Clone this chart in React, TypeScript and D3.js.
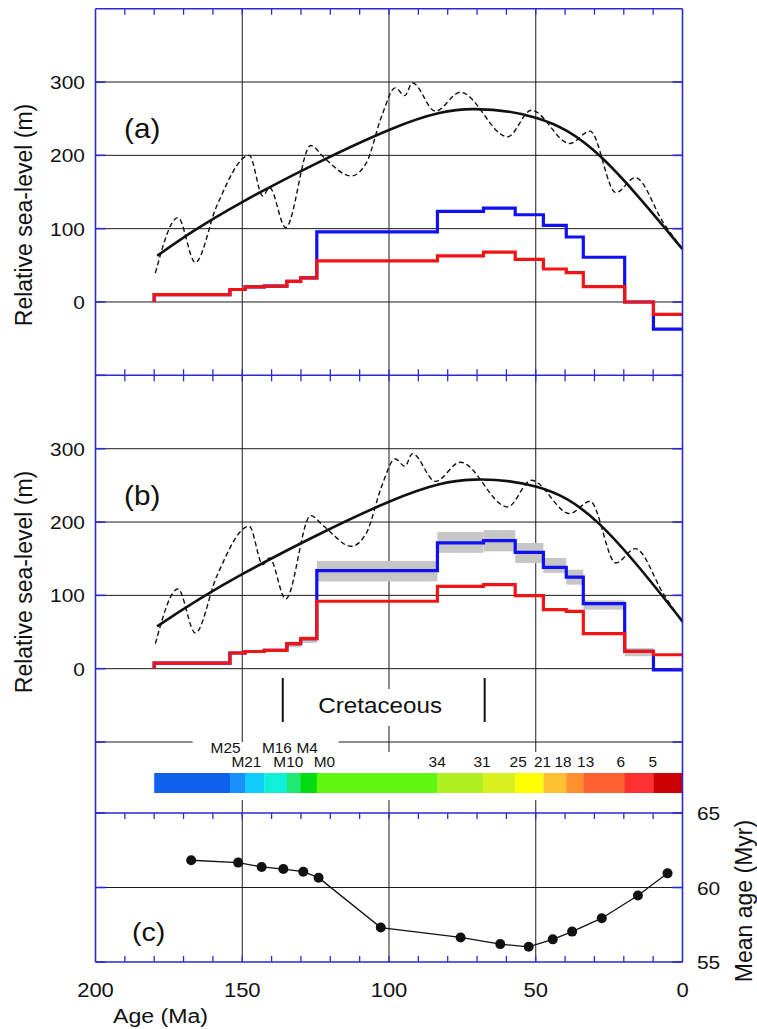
import React from 'react';
import * as d3 from 'd3';

// ---------------- DATA ----------------
// Age breakpoints (Ma) of the step curves (older -> younger)
const breaks = [180, 154.2, 149, 142.5, 134.8, 130.1, 124.6, 83.5, 67.8, 57, 47.4, 39.6, 33.8, 19.7, 9.9, 0];
// Panel (a) step values (m), one per interval
const redA = [10, 17, 20.5, 21.5, 28, 33, 56, 63, 68, 58, 45, 40, 21, 0, -17];
const blueA = [10, 17, 20.5, 21.5, 28, 33, 95.5, 123.6, 128, 119, 104.5, 88.6, 61, 0, -37];
// Panel (b) step values (m)
const redB = [7.7, 21.4, 23.4, 25, 34.1, 41, 92, 112.3, 114.6, 99.6, 80.5, 78.2, 47.7, 23.6, 19];
const blueB = [7.7, 21.4, 23.4, 25, 34.1, 41, 133.7, 171.5, 174.6, 158.5, 138.2, 124.9, 88.7, 23.6, -1.5];
// Panel (b) uncertainty band (m), per interval (null = none)
const bandLowB: (number | null)[] = [null, null, null, null, 29, 35, 119, 158, 160, 144, 130.6, 114.6, 80.5, 17, null];
const bandHighB: (number | null)[] = [null, null, null, null, 37, 44, 147, 186.5, 189, 171.5, 151, 135, 93.2, 28, null];

// Smooth (fitted) long-term curves
const smoothAges = [179, 149.7, 99.8, 71.2, 49.7, 28.1, 0];
const smoothA = [63, 137, 235, 263, 251, 199, 72];
const smoothB = [57.7, 129.6, 228, 257.8, 248, 196.5, 64.5];

// Dashed (oscillating) curves
const dashAges = [179.6, 171.9, 166.0, 158.7, 147.6, 143.0, 140.7, 135.2, 126.7, 122.1, 112.9, 107.7, 102.5, 97.9, 94.6, 92.0, 84.2, 75.7, 59.6, 51.5, 38.4, 31.5, 22.7, 16.1, 6.5, 0];
const dashA = [39.4, 115, 53.9, 131, 199.9, 144.6, 156, 101.5, 213.5, 196.7, 171.8, 189.9, 253.4, 292, 281.5, 298.7, 260.2, 286, 225.3, 261.5, 216.2, 233, 149.1, 169.6, 108, 72];
const dashB = [34.1, 108.7, 48.7, 126, 194.2, 141.9, 151, 95, 208.7, 194, 166.9, 185, 248.7, 286, 276, 293.3, 255.5, 281.5, 220.6, 256.9, 211.5, 228.3, 144.2, 163.7, 102, 63.2];

// Magnetic chron colour bar (one colour per interval)
const chronColors = ['#1060ee', '#1a90ff', '#10ccff', '#10f0d8', '#20e870', '#00dd10', '#60f810', '#b0f020', '#d8f020', '#ffff00', '#ffc030', '#ff9030', '#ff6030', '#ff3030', '#cc0000'];
const chronTop = ['M25', 'M16', 'M4'];
const chronTopAges = [155.7, 138.2, 127.9];
const chronBottom = ['M21', 'M10', 'M0', '34', '31', '25', '21', '18', '13', '6', '5'];
const chronBottomAges = [148.6, 134.3, 122, 83.6, 68.3, 56, 47.7, 40.7, 33, 21, 10.1];

// Cretaceous marker
const cretStart = 136.2;
const cretEnd = 67.4;
const cretLabelAge = 103;

// Panel (c) mean age
const meanAgeAges = [167.4, 151.4, 143.4, 136.0, 129.2, 124.0, 102.8, 75.6, 62.1, 52.4, 44.2, 37.6, 27.5, 15.2, 5.1];
const meanAgeVals = [61.83, 61.67, 61.38, 61.24, 61.06, 60.66, 57.31, 56.65, 56.2, 56.02, 56.52, 57.04, 57.94, 59.46, 60.95];

// Ticks
const xMajor = [150, 100, 50];
const xLabels = [200, 150, 100, 50, 0];
const xMinor = d3.range(10, 200, 10);
const seaTicks = [0, 100, 200, 300];
const meanTicks = [55, 60, 65];

// ---------------- DRAWING ----------------
const W = 757;
const H = 1029;
const BLUE = '#2a2ad0';
const GRID = '#1a1a1a';
const FONT = '"Liberation Sans", Arial, Helvetica, sans-serif';
const SX = 1.1;

function T(props: { x: number; y: number; size: number; anchor?: string; children: React.ReactNode }) {
  const { x, y, size, anchor = 'start', children } = props;
  return (
    <text transform={`translate(${x},${y}) scale(${SX},1)`} fontSize={size} textAnchor={anchor as any} fill="#111" fontFamily={FONT}>
      {children}
    </text>
  );
}

export default function App() {
  const x = d3.scaleLinear().domain([200, 0]).range([95.5, 682.5]);
  const yA = d3.scaleLinear().domain([-100, 400]).range([375.3, 8.7]);
  const yB = d3.scaleLinear().domain([-100, 400]).range([742, 375.4]);
  const yC = d3.scaleLinear().domain([55, 65]).range([962, 813]);

  const L = x(200);
  const R = x(0);

  const stepPts = (vals: number[]): [number, number][] => [
    [breaks[0], 0],
    ...vals.map((v, i) => [breaks[i], v] as [number, number]),
    [breaks[breaks.length - 1], vals[vals.length - 1]],
  ];
  const stepPath = (y: d3.ScaleLinear<number, number>, vals: number[]) =>
    d3.line<[number, number]>().x(d => x(d[0])).y(d => y(d[1])).curve(d3.curveStepAfter)(stepPts(vals)) || '';
  const smoothPath = (y: d3.ScaleLinear<number, number>, vals: number[]) =>
    d3.line<number>().x((_, i) => x(smoothAges[i])).y(d => y(d)).curve(d3.curveNatural)(vals) || '';
  const dashPath = (y: d3.ScaleLinear<number, number>, vals: number[]) =>
    d3.line<number>().x((_, i) => x(dashAges[i])).y(d => y(d)).curve(d3.curveMonotoneX)(vals) || '';
  const meanPath = d3.line<number>().x((_, i) => x(meanAgeAges[i])).y(d => yC(d))(meanAgeVals) || '';

  const panelTopA = yA(400);
  const panelBotA = yA(-100);
  const panelBotB = yB(-100);
  const topC = yC(65);
  const botC = yC(55);

  const cretY0 = 678;
  const cretY1 = 722;

  return (
    <svg width={W} height={H} style={{ position: 'absolute', left: 0, top: 0, background: '#fff' }} fontFamily={FONT}>
      <rect x={0} y={0} width={W} height={H} fill="#fff" />

      {/* ---------- gridlines ---------- */}
      {seaTicks.map(v => (
        <line key={'ga' + v} x1={L} x2={R} y1={yA(v)} y2={yA(v)} stroke={GRID} strokeWidth={1} />
      ))}
      {seaTicks.map(v => (
        <line key={'gb' + v} x1={L} x2={R} y1={yB(v)} y2={yB(v)} stroke={GRID} strokeWidth={1} />
      ))}
      {xMajor.map(a => (
        <line key={'va' + a} x1={x(a)} x2={x(a)} y1={panelTopA} y2={panelBotB} stroke={GRID} strokeWidth={1} />
      ))}
      {/* bottom line of panel b, with gap for chron labels */}
      <line x1={L} x2={192.7} y1={panelBotB} y2={panelBotB} stroke={GRID} strokeWidth={1} />
      <line x1={338.6} x2={R} y1={panelBotB} y2={panelBotB} stroke={GRID} strokeWidth={1} />
      {/* short ticks in colour-bar strip */}
      {xMajor.filter(a => a !== 150).map(a => (
        <line key={'cbt' + a} x1={x(a)} x2={x(a)} y1={panelBotB} y2={panelBotB + 10} stroke={GRID} strokeWidth={1} />
      ))}
      {xMajor.map(a => (
        <line key={'vc' + a} x1={x(a)} x2={x(a)} y1={800} y2={botC} stroke={GRID} strokeWidth={1} />
      ))}
      <line x1={L} x2={R} y1={yC(60)} y2={yC(60)} stroke={GRID} strokeWidth={1} />

      {/* ---------- Cretaceous label ---------- */}
      <rect x={315} y={689} width={130} height={37} fill="#fff" />
      <line x1={x(cretStart)} x2={x(cretStart)} y1={cretY0} y2={cretY1} stroke="#111" strokeWidth={2} />
      <line x1={x(cretEnd)} x2={x(cretEnd)} y1={cretY0} y2={cretY1} stroke="#111" strokeWidth={2} />
      <T x={x(cretLabelAge)} y={713} size={22} anchor="middle">Cretaceous</T>

      {/* ---------- panel b uncertainty bands ---------- */}
      {bandLowB.map((lo, i) => {
        const hi = bandHighB[i];
        if (lo === null || hi === null) return null;
        return (
          <rect key={'band' + i} x={x(breaks[i])} width={x(breaks[i + 1]) - x(breaks[i])} y={yB(hi)} height={yB(lo) - yB(hi)} fill="#c6c6c6" />
        );
      })}

      {/* ---------- step curves ---------- */}
      <path d={stepPath(yA, blueA)} fill="none" stroke="#1010f0" strokeWidth={3.2} />
      <path d={stepPath(yA, redA)} fill="none" stroke="#f01414" strokeWidth={3.2} />
      <path d={stepPath(yB, blueB)} fill="none" stroke="#1010f0" strokeWidth={3.2} />
      <path d={stepPath(yB, redB)} fill="none" stroke="#f01414" strokeWidth={3.2} />

      {/* ---------- sea-level curves ---------- */}
      <path d={dashPath(yA, dashA)} fill="none" stroke="#111" strokeWidth={1.4} strokeDasharray="5 3" />
      <path d={smoothPath(yA, smoothA)} fill="none" stroke="#111" strokeWidth={2.6} />
      <path d={dashPath(yB, dashB)} fill="none" stroke="#111" strokeWidth={1.4} strokeDasharray="5 3" />
      <path d={smoothPath(yB, smoothB)} fill="none" stroke="#111" strokeWidth={2.6} />

      {/* ---------- colour bar ---------- */}
      {chronColors.map((c, i) => (
        <rect key={'cb' + i} x={x(breaks[i])} width={x(breaks[i + 1]) - x(breaks[i]) + 0.3} y={773} height={20} fill={c} />
      ))}
      {chronTop.map((s, i) => (
        <T key={'ct' + i} x={x(chronTopAges[i])} y={752.5} size={14} anchor="middle">{s}</T>
      ))}
      {chronBottom.map((s, i) => (
        <T key={'cbl' + i} x={x(chronBottomAges[i])} y={767} size={14} anchor="middle">{s}</T>
      ))}

      {/* ---------- panel c ---------- */}
      <path d={meanPath} fill="none" stroke="#111" strokeWidth={1.3} />
      {meanAgeVals.map((v, i) => (
        <circle key={'pt' + i} cx={x(meanAgeAges[i])} cy={yC(v)} r={5} fill="#111" />
      ))}

      {/* ---------- blue frames ---------- */}
      <line x1={L} x2={L} y1={panelTopA} y2={botC} stroke={BLUE} strokeWidth={1.6} />
      <line x1={R} x2={R} y1={panelTopA} y2={botC} stroke={BLUE} strokeWidth={1.6} />
      <line x1={L} x2={R} y1={panelTopA} y2={panelTopA} stroke={BLUE} strokeWidth={1.6} />
      <line x1={L} x2={R} y1={panelBotA} y2={panelBotA} stroke={BLUE} strokeWidth={1.6} />
      <line x1={L} x2={R} y1={topC} y2={topC} stroke={BLUE} strokeWidth={1.6} />
      <line x1={L} x2={R} y1={botC} y2={botC} stroke={BLUE} strokeWidth={1.6} />

      {/* minor ticks */}
      {xMinor.map(a => (
        <g key={'mt' + a} stroke={BLUE} strokeWidth={1.3}>
          <line x1={x(a)} x2={x(a)} y1={panelTopA} y2={panelTopA + 6} />
          <line x1={x(a)} x2={x(a)} y1={panelBotA - 6} y2={panelBotA + 6} />
          <line x1={x(a)} x2={x(a)} y1={topC} y2={topC + 6} />
          <line x1={x(a)} x2={x(a)} y1={botC - 6} y2={botC} />
        </g>
      ))}
      {/* y ticks */}
      {[...seaTicks, -100].map(v => (
        <g key={'yt' + v} stroke={BLUE} strokeWidth={1.6}>
          <line x1={L} x2={L + 10} y1={yA(v)} y2={yA(v)} />
          <line x1={R - 10} x2={R} y1={yA(v)} y2={yA(v)} />
          <line x1={L} x2={L + 10} y1={yB(v)} y2={yB(v)} />
          <line x1={R - 10} x2={R} y1={yB(v)} y2={yB(v)} />
        </g>
      ))}
      {meanTicks.map(v => (
        <g key={'ct' + v} stroke={BLUE} strokeWidth={1.6}>
          <line x1={L} x2={L + 10} y1={yC(v)} y2={yC(v)} />
          <line x1={R - 10} x2={R} y1={yC(v)} y2={yC(v)} />
        </g>
      ))}

      {/* ---------- labels ---------- */}
      {seaTicks.map(v => (
        <T key={'la' + v} x={85} y={yA(v) + 7} size={19} anchor="end">{String(v)}</T>
      ))}
      {seaTicks.map(v => (
        <T key={'lb' + v} x={85} y={yB(v) + 7} size={19} anchor="end">{String(v)}</T>
      ))}
      {meanTicks.map(v => (
        <T key={'lc' + v} x={697} y={yC(v) + 7} size={19}>{String(v)}</T>
      ))}
      {xLabels.map(a => (
        <T key={'lx' + a} x={x(a)} y={997} size={20} anchor="middle">{String(a)}</T>
      ))}
      <T x={113} y={1023} size={21}>Age (Ma)</T>

      <text transform={`translate(31.5,215) rotate(-90)`} fontSize={23} textAnchor="middle" fill="#111" fontFamily={FONT}>Relative sea-level (m)</text>
      <text transform={`translate(31.5,582) rotate(-90)`} fontSize={23} textAnchor="middle" fill="#111" fontFamily={FONT}>Relative sea-level (m)</text>
      <text transform={`translate(752,901) rotate(-90)`} fontSize={23} textAnchor="middle" fill="#111" fontFamily={FONT}>Mean age (Myr)</text>

      <T x={124} y={138} size={27}>(a)</T>
      <T x={124} y={505} size={27}>(b)</T>
      <T x={132} y={941} size={26}>(c)</T>
    </svg>
  );
}
